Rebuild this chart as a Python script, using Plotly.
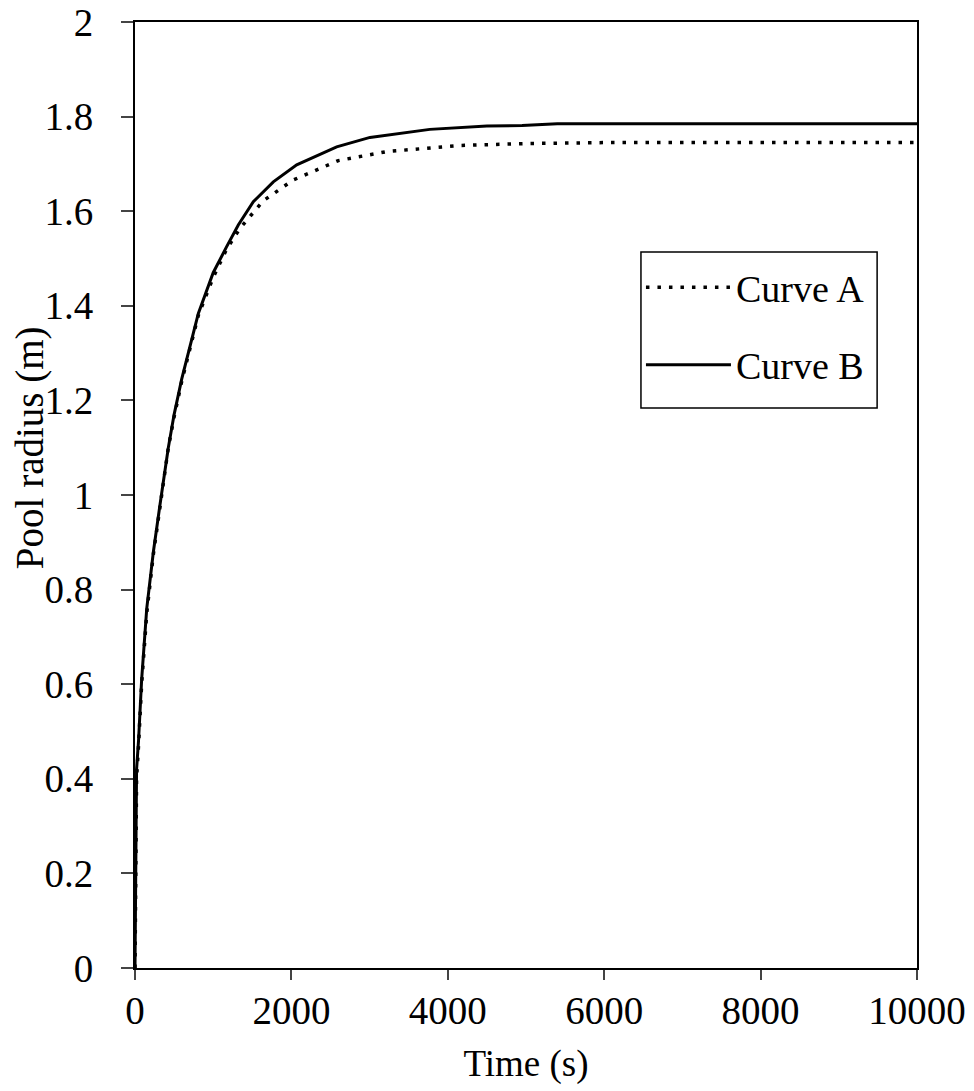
import plotly.graph_objects as go

# Curve A (dotted)
time_a = [0, 5, 10, 20, 45, 85, 150, 235, 320, 426, 500, 597, 810, 1000, 1172, 1343, 1641, 2024, 2600, 3219, 4156, 5000, 6000, 10000]
radius_a = [0, 0.15, 0.28, 0.40, 0.47, 0.60, 0.75, 0.875, 0.975, 1.10, 1.165, 1.24, 1.38, 1.46, 1.52, 1.564, 1.622, 1.666, 1.707, 1.726, 1.739, 1.743, 1.745, 1.745]

# Curve B (solid)
time_b = [0, 5, 10, 20, 45, 85, 150, 235, 320, 426, 500, 597, 810, 1000, 1172, 1321, 1513, 1769, 2068, 2579, 3005, 3770, 4500, 4950, 5400, 10000]
radius_b = [0, 0.2, 0.3, 0.42, 0.48, 0.61, 0.76, 0.88, 0.98, 1.10, 1.17, 1.245, 1.384, 1.47, 1.525, 1.571, 1.62, 1.662, 1.698, 1.736, 1.756, 1.773, 1.780, 1.781, 1.785, 1.785]

x_ticks = [0, 2000, 4000, 6000, 8000, 10000]
x_labels = ["0", "2000", "4000", "6000", "8000", "10000"]
y_ticks = [0, 0.2, 0.4, 0.6, 0.8, 1.0, 1.2, 1.4, 1.6, 1.8, 2.0]
y_labels = ["0", "0.2", "0.4", "0.6", "0.8", "1", "1.2", "1.4", "1.6", "1.8", "2"]

FONT = "Liberation Serif, Times New Roman, serif"
TICK_FS = 39
TITLE_FS = 37
LEG_FS = 38

fig = go.Figure()
fig.add_trace(go.Scatter(x=time_a, y=radius_a, mode="lines", name="Curve A",
                         line=dict(color="black", width=3.5, dash="3.5px,8px"),
                         legendgroup="a"))
fig.add_trace(go.Scatter(x=time_b, y=radius_b, mode="lines", name="Curve B",
                         line=dict(color="black", width=3),
                         legendgroup="b"))

# legend frame
fig.add_shape(type="rect", xref="paper", yref="paper",
              x0=0.647, x1=0.949, y0=0.592, y1=0.757,
              line=dict(color="black", width=1.5), fillcolor="rgba(0,0,0,0)", layer="above")

# y-axis title
fig.add_annotation(text="Pool radius (m)", textangle=-90, xref="paper", yref="paper",
                   x=-0.135, y=0.55, xanchor="center", yanchor="middle",
                   showarrow=False, font=dict(family=FONT, size=39))

fig.update_layout(
    width=974, height=1091,
    margin=dict(l=135, r=57, t=22, b=123),
    paper_bgcolor="white", plot_bgcolor="white",
    font=dict(family=FONT, size=TITLE_FS, color="black"),
    showlegend=True,
    legend=dict(x=0.647, y=0.7526, xanchor="left", yanchor="top",
                borderwidth=0, bgcolor="rgba(0,0,0,0)",
                font=dict(family=FONT, size=LEG_FS),
                itemwidth=85,
                tracegroupgap=25, traceorder="grouped"),
    xaxis=dict(range=[0, 10000], tickvals=x_ticks, ticktext=x_labels,
               ticks="outside", ticklen=10, automargin=False,
               tickwidth=1.5, showline=True, linecolor="black", linewidth=2,
               mirror=True, showgrid=False, zeroline=False,
               ticklabelstandoff=-3,
               title=dict(text="Time (s)", standoff=19, font=dict(size=TITLE_FS)),
               tickfont=dict(size=TICK_FS)),
    yaxis=dict(range=[0, 2], tickvals=y_ticks, ticktext=y_labels, ticks="outside",
               ticklen=12, tickwidth=1.5, showline=True, linecolor="black",
               linewidth=2, mirror=True, showgrid=False, zeroline=False,
               ticklabelstandoff=20, automargin=False,
               tickfont=dict(size=TICK_FS)),
)

fig.write_html("out.html")
